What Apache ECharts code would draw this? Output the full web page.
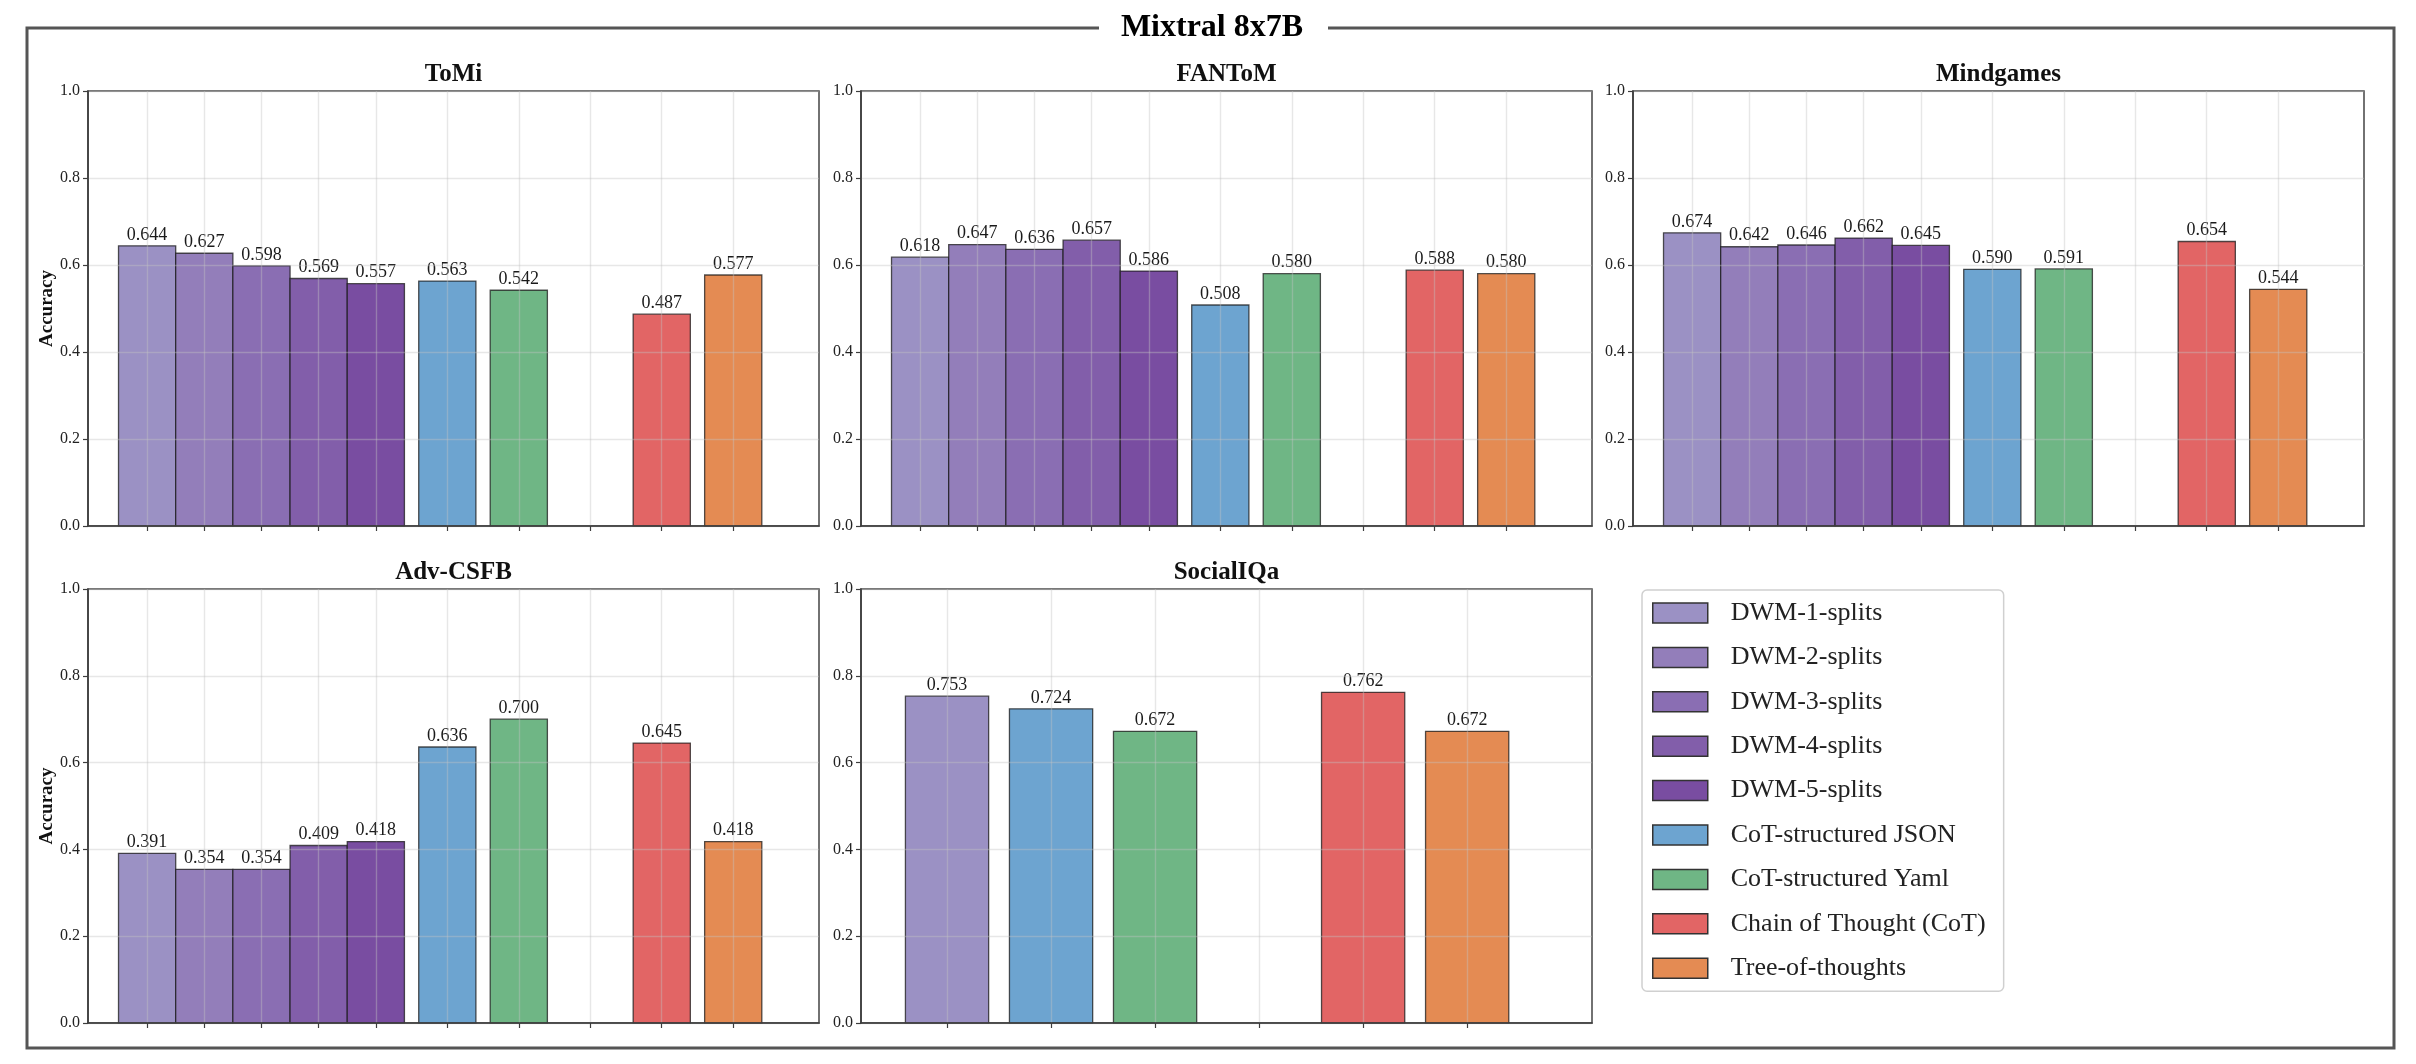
<!DOCTYPE html>
<html>
<head>
<meta charset="utf-8">
<title>Mixtral 8x7B</title>
<script src="https://cdn.jsdelivr.net/npm/echarts@6/dist/echarts.min.js"></script>
<style>
  html, body { margin: 0; padding: 0; background: #fff; }
  #chart { width: 2416px; height: 1064px; }
</style>
</head>
<body>
<div id="chart"></div>
<script>
// Mixtral 8x7B accuracy per benchmark, one panel per dataset

const methods = [
    'DWM-1-splits', 'DWM-2-splits', 'DWM-3-splits', 'DWM-4-splits', 'DWM-5-splits',
    'CoT-structured JSON', 'CoT-structured Yaml', 'Chain of Thought (CoT)', 'Tree-of-thoughts'
];
const datasets = ['ToMi', 'FANToM', 'Mindgames', 'Adv-CSFB', 'SocialIQa'];

// values in method order (null = not run)
const tomi      = [0.644, 0.627, 0.598, 0.569, 0.557, 0.563, 0.542, 0.487, 0.577];
const fantom    = [0.618, 0.647, 0.636, 0.657, 0.586, 0.508, 0.580, 0.588, 0.580];
const mindgames = [0.674, 0.642, 0.646, 0.662, 0.645, 0.590, 0.591, 0.654, 0.544];
const advCsfb   = [0.391, 0.354, 0.354, 0.409, 0.418, 0.636, 0.700, 0.645, 0.418];
const socialIqa = [0.753, null, null, null, null, 0.724, 0.672, 0.762, 0.672];

const yTicks = [0, 0.2, 0.4, 0.6, 0.8, 1.0];

const colors = [
    '#9b91c4', '#937eba', '#8a6eb3', '#825eaa', '#794da1',
    '#6da4d0', '#6fb685', '#e26565', '#e48b53'
];

const values = [tomi, fantom, mindgames, advCsfb, socialIqa];
const SERIF = '"Liberation Serif", "Times New Roman", serif';
const BAR_W = 0.8;

// panel boxes in px: [left, top, width, height]
const boxes = [
    [88, 91, 731, 435], [861, 91, 731, 435], [1633, 91, 731, 435],
    [88, 589, 731, 434], [861, 589, 731, 434]
];

// DWM bars sit side by side (step 0.8), the other methods one unit apart,
// with an empty slot between the structured and the plain prompting methods
function layout(vals) {
    const pos = [];
    let n = 0;
    for (let i = 0; i < 5; i++) {
        if (vals[i] != null) { pos[i] = n * 0.8; n++; }
    }
    const last = (n - 1) * 0.8;
    pos[5] = last + 1;
    pos[6] = last + 2;
    const gap = last + 3;
    pos[7] = last + 4;
    pos[8] = last + 5;
    const ticks = pos.filter((p, i) => vals[i] != null).concat([gap]).sort((a, b) => a - b);
    return { pos, ticks, max: last + 5 + 1.2 };
}

function barRenderer(color) {
    return function (params, api) {
        const x = api.value(0), y = api.value(1);
        const top = api.coord([x, y]);
        const size = api.size([BAR_W, y]);
        return {
            type: 'group',
            children: [
                {
                    type: 'rect',
                    shape: { x: top[0] - size[0] / 2, y: top[1], width: size[0], height: size[1] },
                    style: { fill: color, stroke: 'rgba(25,25,25,0.75)', lineWidth: 1.3 }
                },
                {
                    type: 'text',
                    style: {
                        text: y.toFixed(3), x: top[0], y: top[1] - 2,
                        align: 'center', verticalAlign: 'bottom',
                        font: '18px ' + SERIF, fill: '#1a1a1a'
                    }
                }
            ]
        };
    };
}

const grids = [], xAxes = [], yAxes = [], series = [], graphics = [];

datasets.forEach((name, pi) => {
    const vals = values[pi];
    const lay = layout(vals);
    const b = boxes[pi];
    grids.push({
        left: b[0], top: b[1], width: b[2], height: b[3],
        show: true, borderColor: '#444', borderWidth: 1.5, backgroundColor: 'transparent'
    });
    xAxes.push({
        type: 'value', gridIndex: pi, min: -0.827, max: lay.max, z: 3,
        axisLine: { show: true, onZero: false, lineStyle: { color: '#3d3d3d', width: 1.6 } },
        axisTick: { show: true, length: 5, customValues: lay.ticks, lineStyle: { color: '#3d3d3d', width: 1.2 } },
        axisLabel: { show: false, customValues: lay.ticks },
        splitLine: { show: true, lineStyle: { color: 'rgba(195,195,195,0.4)', width: 1.4 } }
    });
    yAxes.push({
        type: 'value', gridIndex: pi, min: 0, max: 1, interval: 0.2, z: 3,
        name: (pi === 0 || pi === 3) ? 'Accuracy' : '',
        nameLocation: 'middle', nameGap: 31,
        nameTextStyle: { fontFamily: SERIF, fontWeight: 'bold', fontSize: 19, color: '#111' },
        axisLine: { show: true, onZero: false, lineStyle: { color: '#3d3d3d', width: 1.6 } },
        axisTick: { show: true, length: 5, lineStyle: { color: '#3d3d3d', width: 1.2 } },
        axisLabel: {
            fontFamily: SERIF, fontSize: 16, color: '#222', margin: 8,
            formatter: v => yTicks.includes(+v.toFixed(1)) ? v.toFixed(1) : ''
        },
        splitLine: { show: true, lineStyle: { color: 'rgba(195,195,195,0.4)', width: 1.4 } }
    });
    methods.forEach((m, mi) => {
        if (vals[mi] == null) return;
        series.push({
            type: 'custom', name: m, xAxisIndex: pi, yAxisIndex: pi, z: 2,
            itemStyle: { color: colors[mi], borderColor: '#333', borderWidth: 1.3 },
            renderItem: barRenderer(colors[mi]),
            data: [[lay.pos[mi], vals[mi]]]
        });
    });
    graphics.push({
        type: 'text', x: b[0] + b[2] / 2, y: b[1] - 16,
        style: {
            text: name, align: 'center', verticalAlign: 'middle',
            font: 'bold 25px ' + SERIF, fill: '#111'
        }
    });
});

// outer frame with the model name breaking its top edge
graphics.unshift({
    type: 'rect', shape: { x: 27, y: 28, width: 2367, height: 1020 },
    style: { fill: 'none', stroke: '#555', lineWidth: 3 }, z: 0
});
graphics.push({
    type: 'rect', shape: { x: 1099, y: 10, width: 229, height: 36 },
    style: { fill: '#fff' }, z: 1
});
graphics.push({
    type: 'text', x: 1212, y: 28, z: 2,
    style: {
        text: 'Mixtral 8x7B', align: 'center', verticalAlign: 'middle',
        font: 'bold 32px ' + SERIF, fill: '#000'
    }
});

const chart = echarts.init(document.getElementById('chart'), null, { renderer: 'canvas' });
chart.setOption({
    animation: false,
    backgroundColor: '#fff',
    grid: grids,
    xAxis: xAxes,
    yAxis: yAxes,
    legend: {
        data: methods,
        orient: 'vertical',
        left: 1642, top: 590,
        padding: [10, 18, 10, 10],
        itemWidth: 55, itemHeight: 20, itemGap: 18.4,
        icon: 'rect',
        borderColor: '#d0d0d0', borderWidth: 1.5, borderRadius: 5,
        itemStyle: { borderColor: 'inherit', borderWidth: 1.5 },
        textStyle: { fontFamily: SERIF, fontSize: 26, color: '#222', lineHeight: 20, padding: [0, 0, 0, 18] }
    },
    graphic: graphics,
    series: series
});
</script>
</body>
</html>
